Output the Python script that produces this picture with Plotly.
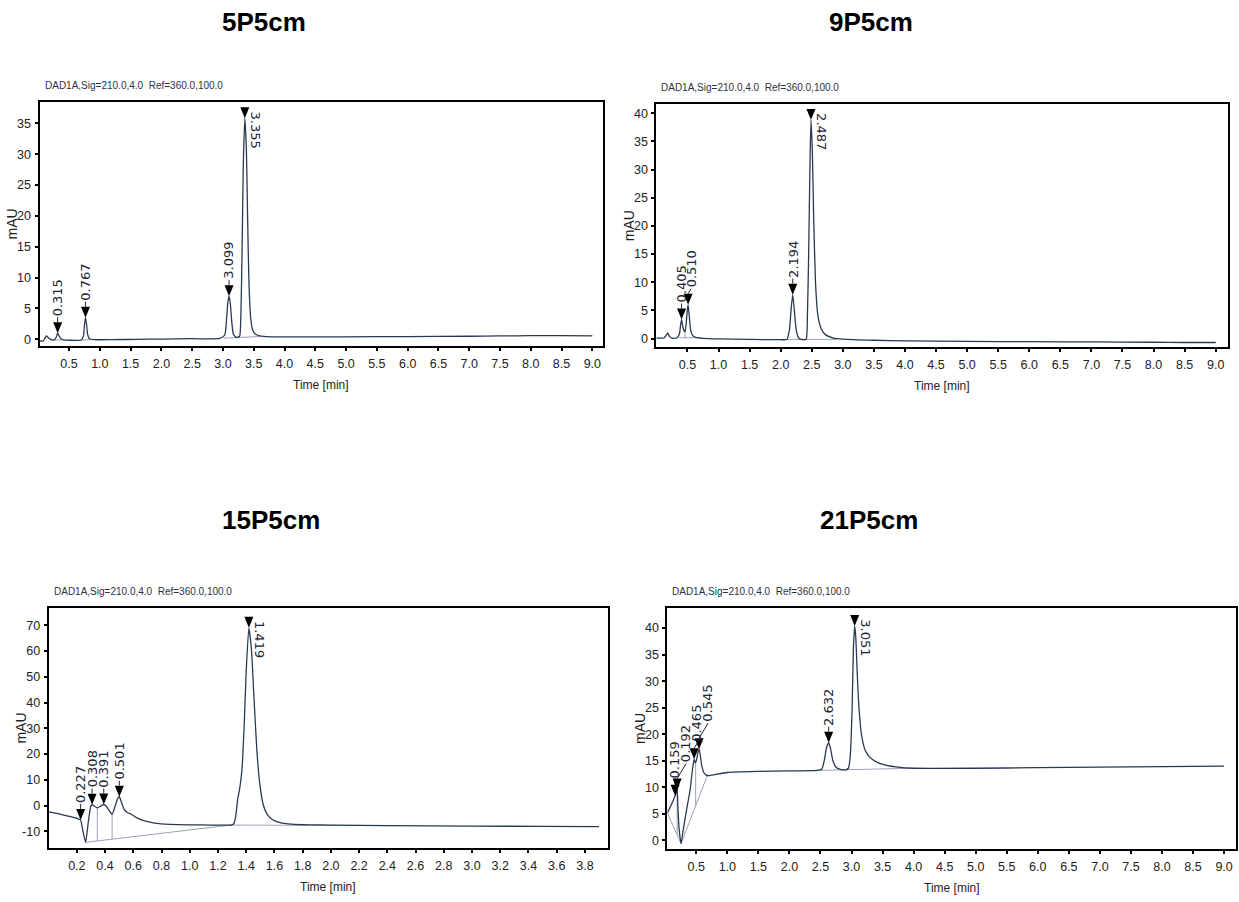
import numpy as np
import plotly.graph_objects as go

W, H = 1239, 902

# ---------------- 5P5cm ----------------
t_5p = [0.02, 0.08, 0.11, 0.13, 0.16, 0.20, 0.26, 0.29, 0.315, 0.34, 0.37, 0.42, 0.55, 0.70,
        0.735, 0.75, 0.767, 0.785, 0.80, 0.83, 0.90, 1.2, 1.6, 2.0, 2.5, 2.95, 3.03, 3.06, 3.08,
        3.099, 3.12, 3.14, 3.17, 3.22, 3.27, 3.29, 3.31, 3.33, 3.355, 3.38, 3.40, 3.42, 3.45,
        3.48, 3.52, 3.58, 3.7, 4.0, 5.0, 6.0, 7.0, 7.5, 8.0, 8.5, 9.0]
s_5p = [-0.25, -0.25, 0.2, 0.55, 0.3, 0.0, -0.1, 0.3, 1.0, 0.5, 0.1, -0.1, -0.15, -0.1,
        0.6, 2.3, 3.5, 2.4, 0.9, 0.1, -0.05, -0.05, 0.0, 0.05, 0.1, 0.15, 0.7, 3.5, 6.0,
        7.0, 5.8, 3.2, 0.8, 0.3, 0.5, 3.5, 14.0, 28.0, 35.8, 31.0, 20.0, 10.0, 3.5,
        1.6, 0.9, 0.6, 0.45, 0.4, 0.4, 0.45, 0.5, 0.55, 0.6, 0.6, 0.55]
rt_5p = [0.315, 0.767, 3.099, 3.355]
rt_top_5p = [3.355]
blx_5p = [0.27, 0.42, None, 0.71, 0.85, None, 3.01, 3.60]
bly_5p = [-0.1, -0.1, None, -0.1, -0.05, None, 0.2, 0.45]

# ---------------- 9P5cm ----------------
t_9p = [0.0, 0.12, 0.16, 0.18, 0.21, 0.26, 0.33, 0.37, 0.39, 0.405, 0.42, 0.44, 0.46, 0.48,
        0.50, 0.51, 0.525, 0.55, 0.58, 0.63, 0.75, 1.0, 1.5, 2.0, 2.10, 2.14, 2.17, 2.194,
        2.22, 2.25, 2.29, 2.35, 2.41, 2.43, 2.45, 2.47, 2.487, 2.51, 2.53, 2.56, 2.60, 2.65,
        2.72, 2.85, 3.0, 3.5, 4.0, 5.0, 6.0, 7.0, 8.0, 8.5, 9.0]
s_9p = [0.1, 0.1, 0.6, 1.0, 0.4, 0.05, 0.1, 0.8, 2.5, 3.4, 2.4, 1.5, 1.2, 2.8,
        5.3, 6.0, 4.5, 1.6, 0.6, 0.2, 0.05, -0.05, -0.15, -0.2, -0.15, 1.5, 5.5, 7.8,
        5.0, 1.5, 0.1, -0.2, -0.1, 4.0, 15.0, 30.0, 38.8, 33.0, 22.0, 10.0, 4.0, 1.8,
        0.7, 0.1, -0.1, -0.3, -0.4, -0.5, -0.55, -0.6, -0.65, -0.7, -0.7]
rt_9p = [0.405, 0.510, 2.194, 2.487]
rt_top_9p = [2.487]
blx_9p = [0.36, 0.62, None, 0.46, 0.46, None, 2.11, 2.90]
bly_9p = [0.15, 0.15, None, 1.2, 0.15, None, -0.15, -0.15]

# ---------------- 15P5cm ----------------
t_15p = [0.0, 0.10, 0.19, 0.215, 0.227, 0.24, 0.262, 0.28, 0.298, 0.308, 0.325, 0.345, 0.365,
         0.391, 0.41, 0.43, 0.45, 0.47, 0.49, 0.501, 0.515, 0.535, 0.56, 0.58, 0.62, 0.68,
         0.75, 0.86, 1.0, 1.15, 1.29, 1.31, 1.325, 1.34, 1.355, 1.37, 1.385, 1.40, 1.419,
         1.438, 1.455, 1.475, 1.495, 1.52, 1.55, 1.59, 1.64, 1.72, 1.85, 2.0, 2.4, 3.0, 3.5, 3.9]
s_15p = [-2.5, -3.6, -4.8, -5.3, -5.6, -9.0, -14.3, -7.0, -0.5, 0.3, -0.3, -0.9, -0.4,
         0.4, -0.4, -2.0, -3.4, -0.5, 2.8, 3.4, 1.5, -1.5, -2.8, -3.2, -4.6, -6.0,
         -6.8, -7.3, -7.5, -7.6, -7.6, -7.2, -4.5, 2.5, 7.0, 14.0, 30.0, 52.0, 69.0,
         60.0, 42.0, 22.0, 9.0, 0.5, -3.5, -5.6, -6.6, -7.2, -7.5, -7.6, -7.8, -8.0, -8.1, -8.2]
rt_15p = [0.227, 0.308, 0.391, 0.501, 1.419]
rt_top_15p = [1.419]
blx_15p = [0.262, 1.29, None, 0.345, 0.345, None, 0.45, 0.45, None, 1.29, 2.45]
bly_15p = [-14.3, -7.6, None, -0.9, -13.76, None, -3.4, -13.07, None, -7.6, -7.8]

# ---------------- 21P5cm ----------------
t_21p = [0.035, 0.08, 0.12, 0.159, 0.175, 0.192, 0.205, 0.225, 0.255, 0.29, 0.34, 0.40, 0.44,
         0.465, 0.485, 0.505, 0.525, 0.545, 0.565, 0.59, 0.62, 0.66, 0.70, 0.8, 1.0, 1.5, 2.0,
         2.45, 2.52, 2.56, 2.60, 2.632, 2.66, 2.70, 2.75, 2.82, 2.90, 2.95, 2.98, 3.01, 3.03,
         3.051, 3.07, 3.09, 3.12, 3.16, 3.22, 3.30, 3.40, 3.55, 3.75, 4.0, 5.0, 6.0, 7.0, 8.0, 9.0]
s_21p = [5.2, 6.3, 7.3, 8.4, 9.0, 9.6, 6.0, 2.0, -0.6, 2.0, 5.5, 9.5, 13.5,
         15.3, 14.6, 15.2, 16.5, 17.2, 16.0, 14.0, 12.8, 12.3, 12.2, 12.4, 12.8, 13.0, 13.1,
         13.2, 13.4, 15.0, 17.6, 18.4, 17.4, 15.0, 13.8, 13.4, 13.3, 13.6, 16.0, 25.0, 36.0,
         40.4, 38.0, 32.0, 25.0, 20.0, 17.0, 15.6, 14.8, 14.2, 13.8, 13.6, 13.6, 13.7, 13.8, 13.9, 14.0]
rt_21p = [0.159, 0.192, 0.465, 0.545, 2.632, 3.051]
rt_top_21p = [3.051]
blx_21p = [0.035, 0.255, None, 0.192, 0.192, None, 0.255, 0.68, None, 0.49, 0.49, None, 2.47, 3.95]
bly_21p = [5.2, -0.6, None, 9.6, 1.06, None, -0.6, 12.3, None, 14.6, 6.5, None, 13.2, 13.6]

# ---------------- tick labels ----------------
x_ticks_9min = ["0.5", "1.0", "1.5", "2.0", "2.5", "3.0", "3.5", "4.0", "4.5", "5.0", "5.5",
                "6.0", "6.5", "7.0", "7.5", "8.0", "8.5", "9.0"]
x_ticks_4min = ["0.2", "0.4", "0.6", "0.8", "1.0", "1.2", "1.4", "1.6", "1.8", "2.0", "2.2",
                "2.4", "2.6", "2.8", "3.0", "3.2", "3.4", "3.6", "3.8"]
y_ticks_35 = ["0", "5", "10", "15", "20", "25", "30", "35"]
y_ticks_40 = ["0", "5", "10", "15", "20", "25", "30", "35", "40"]
y_ticks_70 = ["-10", "0", "10", "20", "30", "40", "50", "60", "70"]

SIGNAL_TEXT = "DAD1A,Sig=210.0,4.0\u00a0\u00a0Ref=360.0,100.0"

SANS = "Liberation Sans, Arial, sans-serif"
LABEL_FONT = "DejaVu Sans, sans-serif"
TRACE_COLOR = "#2b3852"
BASE_COLOR = "#9aa3b5"
INK = "#1c2433"

# lab_dx / lab_dy: pixel offsets of the upward retention-time labels (non-top peaks only)
panels = [
    dict(title="5P5cm", t=t_5p, s=s_5p, rt=rt_5p, top=rt_top_5p, bx=blx_5p, by=bly_5p,
         box=(39.5, 102.3, 602.8, 345.7), xr=[0.02, 9.17], yr=[-1.03, 38.4],
         xt=x_ticks_9min, yt=y_ticks_35, title_xy=(264, 22),
         lab_dx=[0, 0, 0], lab_dy=[0, 0, 0]),
    dict(title="9P5cm", t=t_9p, s=s_9p, rt=rt_9p, top=rt_top_9p, bx=blx_9p, by=bly_9p,
         box=(656.4, 104.3, 1227.5, 347.3), xr=[0.0, 9.19], yr=[-1.55, 41.6],
         xt=x_ticks_9min, yt=y_ticks_40, title_xy=(871, 22),
         lab_dx=[0, 3, 0], lab_dy=[0, 0, 0]),
    dict(title="15P5cm", t=t_15p, s=s_15p, rt=rt_15p, top=rt_top_15p, bx=blx_15p, by=bly_15p,
         box=(48.6, 608.0, 607.5, 848.0), xr=[0.0, 3.96], yr=[-16.5, 76.7],
         xt=x_ticks_4min, yt=y_ticks_70, title_xy=(271, 520),
         lab_dx=[0, 0, 0, 0], lab_dy=[0, 0, 0, 0]),
    dict(title="21P5cm", t=t_21p, s=s_21p, rt=rt_21p, top=rt_top_21p, bx=blx_21p, by=bly_21p,
         box=(667.4, 608.4, 1235.9, 848.7), xr=[0.035, 9.19], yr=[-1.55, 43.7],
         xt=x_ticks_9min, yt=y_ticks_40, title_xy=(869, 520),
         lab_dx=[-1, 9, 3, 9, 0], lab_dy=[0, 10, 0, 10, 0]),
]

fig = go.Figure()
annotations = []
shapes = []

for i, p in enumerate(panels, start=1):
    sfx = "" if i == 1 else str(i)
    xa, ya = "x" + sfx, "y" + sfx
    left, top, right, bottom = p["box"]

    # integration baselines, then the signal trace on top
    fig.add_trace(go.Scatter(x=p["bx"], y=p["by"], mode="lines", xaxis=xa, yaxis=ya,
                             line=dict(color=BASE_COLOR, width=1), hoverinfo="skip",
                             showlegend=False))
    fig.add_trace(go.Scatter(x=p["t"], y=p["s"], mode="lines", xaxis=xa, yaxis=ya,
                             line=dict(color=TRACE_COLOR, width=1.3, shape="spline",
                                       smoothing=0.5),
                             showlegend=False))

    axis_common = dict(showline=True, mirror=True, linecolor="black", linewidth=2,
                       ticks="outside", ticklen=3, tickwidth=1.5, tickcolor="black",
                       showgrid=False, zeroline=False,
                       tickfont=dict(family=SANS, size=12.5, color="#222"))
    fig.layout["xaxis" + sfx] = dict(
        axis_common, domain=[left / W, right / W], anchor=ya, range=p["xr"],
        tickvals=[float(v) for v in p["xt"]], ticktext=p["xt"], ticklabelstandoff=2)
    fig.layout["yaxis" + sfx] = dict(
        axis_common, domain=[1 - bottom / H, 1 - top / H], anchor=xa, range=p["yr"],
        tickvals=[float(v) for v in p["yt"]], ticktext=p["yt"], ticklabelstandoff=1)

    # panel title, detector line, axis titles
    tx, ty = p["title_xy"]
    annotations.append(dict(text=p["title"], x=tx / W, y=1 - ty / H, xref="paper", yref="paper",
                            showarrow=False, xanchor="center", yanchor="middle",
                            font=dict(family=SANS, size=26, color="black", weight="bold")))
    annotations.append(dict(text=SIGNAL_TEXT, x=(left + 3) / W, y=1 - (top - 17) / H,
                            xref="paper", yref="paper", showarrow=False,
                            xanchor="left", yanchor="middle",
                            font=dict(family=SANS, size=10, color="#2a3344")))
    annotations.append(dict(text="mAU", x=(left - 28) / W, y=1 - (top + bottom) / 2 / H,
                            xref="paper", yref="paper", showarrow=False, textangle=-90,
                            xanchor="center", yanchor="middle",
                            font=dict(family=SANS, size=14, color="#222")))
    annotations.append(dict(text="Time [min]", x=(left + right) / 2 / W, y=1 - (bottom + 39) / H,
                            xref="paper", yref="paper", showarrow=False,
                            xanchor="center", yanchor="middle",
                            font=dict(family=SANS, size=12, color="#222")))

    # peak markers and retention-time labels
    apex = np.interp(p["rt"], p["t"], p["s"])
    k = 0
    for r, a in zip(p["rt"], apex):
        shapes.append(dict(type="path", xref=xa, yref=ya, xsizemode="pixel", ysizemode="pixel",
                           xanchor=r, yanchor=float(a), path="M -4.5 11 L 4.5 11 L 0 0 Z",
                           fillcolor="black", line=dict(width=0)))
        label = f"{r:.3f}"
        if r in p["top"]:
            annotations.append(dict(text=label, x=r, y=float(a), xref=xa, yref=ya,
                                    showarrow=False, textangle=90, xanchor="left",
                                    yanchor="top", xshift=1, yshift=9,
                                    font=dict(family=LABEL_FONT, size=13, color=INK)))
        else:
            dx, dy = p["lab_dx"][k], p["lab_dy"][k]
            shapes.append(dict(type="line", xref=xa, yref=ya, xsizemode="pixel",
                               ysizemode="pixel", xanchor=r, yanchor=float(a),
                               x0=0, x1=dx, y0=11, y1=16 + dy, line=dict(color=INK, width=1)))
            annotations.append(dict(text=label, x=r, y=float(a), xref=xa, yref=ya,
                                    showarrow=False, textangle=-90, xanchor="center",
                                    yanchor="bottom", xshift=dx, yshift=15 + dy,
                                    font=dict(family=LABEL_FONT, size=13, color=INK)))
            k += 1

fig.update_layout(width=W, height=H, autosize=False, margin=dict(l=0, r=0, t=0, b=0),
                  paper_bgcolor="white", plot_bgcolor="white",
                  annotations=annotations, shapes=shapes, showlegend=False)

fig.write_html("out.html")
